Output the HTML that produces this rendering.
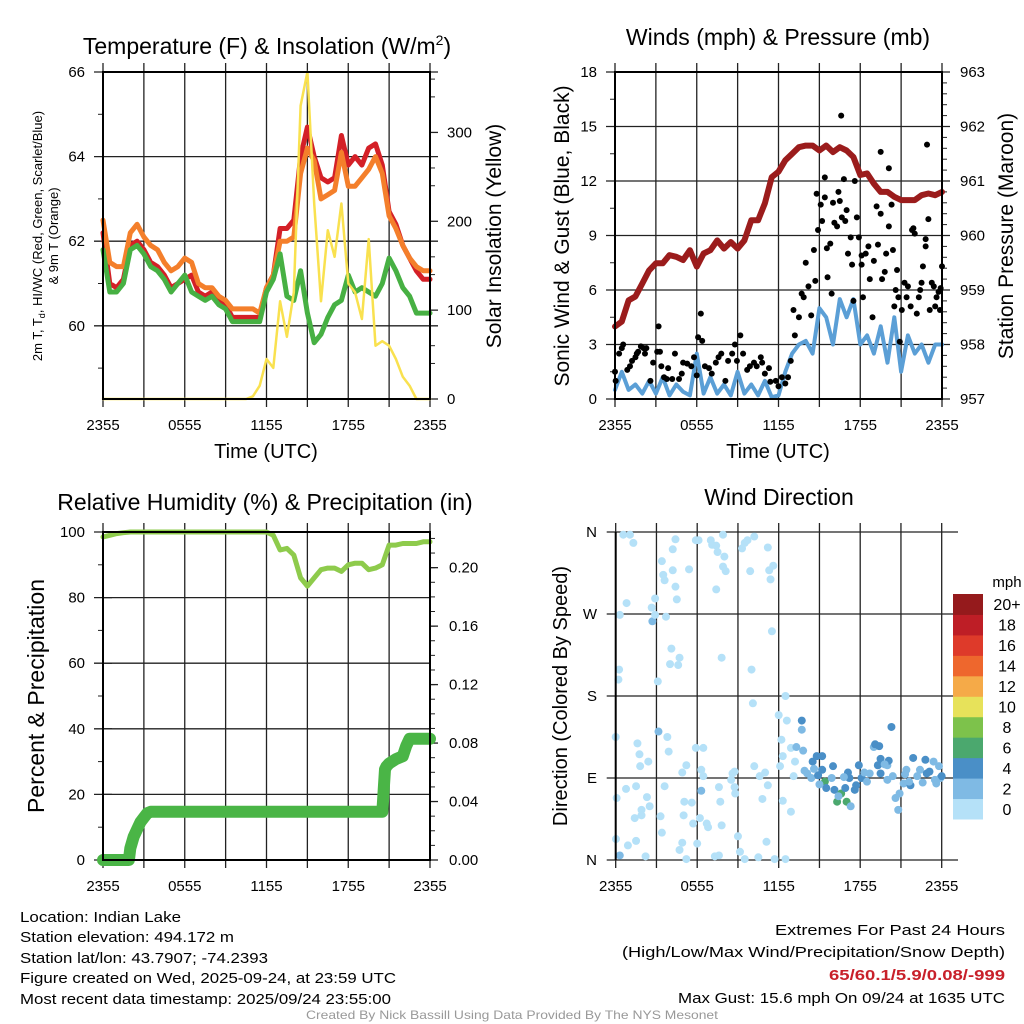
<!DOCTYPE html>
<html><head><meta charset="utf-8"><style>
body{margin:0;background:#fff}
svg{display:block;font-family:"Liberation Sans",Arial,sans-serif}
</style></head><body>
<svg id="fig" width="1024" height="1024" viewBox="0 0 1024 1024" xmlns="http://www.w3.org/2000/svg">
<rect width="1024" height="1024" fill="#fff"/>
<g id="p1"></g>
<g id="p2"></g>
<g id="p3"></g>
<g id="p4"></g>

<text x="267" y="54" font-size="23" text-anchor="middle">Temperature (F) &amp; Insolation (W/m<tspan font-size="14" dy="-9">2</tspan><tspan dy="9">)</tspan></text>
<text x="778" y="45" font-size="23" text-anchor="middle">Winds (mph) &amp; Pressure (mb)</text>
<text x="265" y="510" font-size="23" text-anchor="middle">Relative Humidity (%) &amp; Precipitation (in)</text>
<text x="779" y="505" font-size="23" text-anchor="middle">Wind Direction</text>

<text transform="translate(42,236) rotate(-90)" font-size="13" text-anchor="middle">2m T, T<tspan font-size="9" dy="3">d</tspan><tspan dy="-3">, HI/WC (Red, Green, Scarlet/Blue)</tspan></text>
<text transform="translate(58,236) rotate(-90)" font-size="13" text-anchor="middle">&amp; 9m T (Orange)</text>
<text transform="translate(501,236) rotate(-90)" font-size="21" text-anchor="middle">Solar Insolation (Yellow)</text>
<text x="266" y="458" font-size="20" text-anchor="middle">Time (UTC)</text>
<text transform="translate(569,236) rotate(-90)" font-size="21" text-anchor="middle">Sonic Wind &amp; Gust (Blue, Black)</text>
<text transform="translate(1013,236) rotate(-90)" font-size="21" text-anchor="middle">Station Pressure (Maroon)</text>
<text x="778" y="458" font-size="20" text-anchor="middle">Time (UTC)</text>
<text transform="translate(44,696) rotate(-90)" font-size="23" text-anchor="middle">Percent &amp; Precipitation</text>
<text transform="translate(567,696) rotate(-90)" font-size="20" text-anchor="middle">Direction (Colored By Speed)</text>

<g font-size="15">
<text x="20" y="922" textLength="161" lengthAdjust="spacingAndGlyphs">Location: Indian Lake</text>
<text x="20" y="942" textLength="214" lengthAdjust="spacingAndGlyphs">Station elevation: 494.172 m</text>
<text x="20" y="963" textLength="248" lengthAdjust="spacingAndGlyphs">Station lat/lon: 43.7907; -74.2393</text>
<text x="20" y="983" textLength="376" lengthAdjust="spacingAndGlyphs">Figure created on Wed, 2025-09-24, at 23:59 UTC</text>
<text x="20" y="1004" textLength="371" lengthAdjust="spacingAndGlyphs">Most recent data timestamp: 2025/09/24 23:55:00</text>
</g>
<g font-size="15" text-anchor="end">
<text x="1005" y="935" textLength="230" lengthAdjust="spacingAndGlyphs">Extremes For Past 24 Hours</text>
<text x="1005" y="957" textLength="383" lengthAdjust="spacingAndGlyphs">(High/Low/Max Wind/Precipitation/Snow Depth)</text>
<text x="1005" y="980" fill="#c8202a" font-weight="bold" textLength="176" lengthAdjust="spacingAndGlyphs">65/60.1/5.9/0.08/-999</text>
<text x="1005" y="1003" textLength="327" lengthAdjust="spacingAndGlyphs">Max Gust: 15.6 mph On 09/24 at 1635 UTC</text>
</g>
<text x="512" y="1019" font-size="12" fill="#999" text-anchor="middle" textLength="412" lengthAdjust="spacingAndGlyphs">Created By Nick Bassill Using Data Provided By The NYS Mesonet</text>
</svg>
<script>
// ---- data (times in hours since 2355, half-hourly) ----
const halfHours = [0,0.5,1,1.5,2,2.5,3,3.5,4,4.5,5,5.5,6,6.5,7,7.5,8,8.5,9,9.5,10,10.5,11,11.5,12,12.5,13,13.5,14,14.5,15,15.5,16,16.5,17,17.5,18,18.5,19,19.5,20,20.5,21,21.5,22,22.5,23,23.5,24];
const timeTickLabels = ["2355","0555","1155","1755","2355"];
const tempRed = [62.2,61.0,60.9,61.1,61.9,62.0,61.8,61.5,61.4,61.2,60.9,61.0,61.1,61.2,60.8,60.7,60.8,60.6,60.5,60.2,60.2,60.2,60.2,60.2,60.9,61.2,62.3,62.3,62.5,64.0,64.7,64.0,63.5,63.4,63.5,64.5,63.8,64.0,63.8,64.2,64.3,63.8,62.7,62.4,61.9,61.6,61.3,61.1,61.1];
const tempOrange = [62.5,61.5,61.4,61.4,62.2,62.4,62.1,61.9,61.8,61.5,61.3,61.4,61.6,61.5,61.0,60.9,60.9,60.7,60.6,60.4,60.4,60.4,60.4,60.3,60.9,61.2,62.0,62.0,62.1,63.6,64.2,63.9,63.0,63.1,63.2,64.1,63.3,63.3,63.5,63.7,64.0,63.6,62.6,62.3,61.9,61.6,61.4,61.3,61.3];
const dewGreen = [61.8,60.8,60.8,61.0,61.8,61.9,61.7,61.4,61.3,61.1,60.8,61.0,61.2,60.8,60.7,60.6,60.7,60.5,60.4,60.1,60.1,60.1,60.1,60.1,60.8,61.1,61.7,60.7,60.6,61.3,60.3,59.6,59.8,60.2,60.5,60.6,61.2,60.8,60.9,60.8,60.7,61.0,61.6,61.3,60.9,60.7,60.3,60.3,60.3];
const solar = [0,0,0,0,0,0,0,0,0,0,0,0,0,0,0,0,0,0,0,0,0,0,3,15,45,35,110,70,120,330,368,220,110,190,160,220,130,120,90,180,60,65,60,45,25,15,0,0,0];
const tempTicks = [60,62,64,66];
const solarTicks = [0,100,200,300];

const windSpeed = [0.5,1.5,0.5,0.8,0.3,1.0,0.3,1.2,0.2,0.8,0.4,0.2,2.5,0.3,1.2,0.3,0.8,0.2,1.5,0.3,0.8,0.2,1.0,0.1,0.2,1.5,2.5,3.0,3.2,2.5,5.0,4.5,3.0,5.5,4.5,5.5,3.0,3.5,2.5,4.0,2.0,4.5,1.5,3.5,2.5,3.0,2.0,3.0,3.0];
const pressure = [958.33,958.42,958.81,958.88,959.12,959.36,959.49,959.49,959.64,959.61,959.55,959.73,959.43,959.67,959.73,959.91,959.76,959.88,959.76,959.91,960.28,960.28,960.59,961.07,961.17,961.38,961.50,961.62,961.65,961.65,961.56,961.65,961.53,961.62,961.56,961.44,961.11,961.14,960.95,960.80,960.80,960.71,960.65,960.65,960.65,960.74,960.77,960.74,960.80];
const gustTimes = [0,0.05,0.3,0.5,0.6,0.9,1.1,1.25,1.5,1.6,1.7,1.9,2.1,2.2,2.3,2.6,2.8,3.1,3.2,3.3,3.4,3.6,3.8,3.9,4.2,4.4,4.7,4.9,5.0,5.3,5.6,5.8,6.0,6.1,6.3,6.4,6.6,6.9,7.1,7.4,7.6,7.8,8.1,8.3,8.6,8.8,8.95,9.2,9.4,9.7,9.9,10.2,10.4,10.7,10.8,11.0,11.3,11.4,11.8,12.0,12.25,12.5,12.7,12.9,
13.1,13.2,13.5,13.7,13.85,14.0,14.2,14.4,14.6,14.7,14.8,14.9,15.1,15.2,15.4,15.4,15.55,15.6,15.8,15.9,16.0,16.1,16.3,16.4,16.5,16.6,16.65,16.8,16.9,17.0,17.1,17.3,17.4,17.5,17.6,17.75,17.9,18.1,18.1,18.2,18.4,18.6,18.7,18.9,19.0,19.2,19.3,19.5,19.5,19.6,19.8,19.9,20.1,20.1,20.3,20.4,20.5,20.6,20.7,20.8,20.9,21.05,21.25,21.4,21.5,21.7,21.8,21.9,22.0,22.15,22.3,22.4,22.5,22.6,22.8,22.8,22.9,23.0,23.1,23.25,23.4,23.5,23.6,23.75,23.85,24.0,23.9];
const gustValues = [1.5,1.0,2.5,2.8,3.0,1.6,1.8,2.1,2.3,2.5,2.6,2.9,2.8,2.5,2.8,1.0,2.0,2.6,4.0,2.6,1.8,1.2,1.1,1.7,1.1,2.5,1.1,1.4,2.0,1.95,1.8,2.3,1.3,3.4,4.7,3.2,1.8,1.7,1.4,2.0,2.3,2.5,1.0,2.1,2.5,3.0,2.1,3.5,2.5,1.6,1.8,2.0,1.8,2.3,2.0,1.4,1.7,0.95,1.0,0.7,1.2,0.85,1.2,2.1,
4.9,3.5,4.5,5.8,5.6,7.5,6.2,4.6,8.2,6.5,11.3,9.3,10.7,9.8,12.2,11.1,8.3,6.7,8.55,5.8,10.8,9.7,9.5,11.4,10.9,15.6,10.0,12.1,9.8,10.4,8.0,8.9,7.4,5.4,12.0,10.0,8.9,7.9,7.4,5.6,8.0,8.4,6.6,4.5,7.6,10.6,8.5,10.2,13.6,6.6,7.0,8.0,12.7,9.5,10.7,8.2,5.1,6.0,7.1,5.6,3.15,4.9,6.4,5.6,6.2,5.1,9.3,9.4,9.1,4.7,5.6,6.0,6.4,7.3,8.4,8.8,14.0,9.9,4.9,6.4,6.2,5.1,5.6,5.9,4.9,7.3,6.1];
const windTicks = [0,3,6,9,12,15,18];
const pressureTicks = [957,958,959,960,961,962,963];

const rh = [98.5,99,99.5,99.8,100,100,100,100,100,100,100,100,100,100,100,100,100,100,100,100,100,100,100,100,100,99,94.5,95,93,86,83.5,86,88.5,89,89,88,90,90.5,90.5,88.5,89,90,96,96,96.5,96.5,96.5,97,97];
const precipTimes = [0,1.9,2.0,2.25,2.5,2.75,3.0,3.25,3.5,20.5,20.55,20.6,20.7,20.8,21.0,21.5,22.0,22.25,22.5,24];
const precipValues = [0,0,0.008,0.016,0.021,0.026,0.029,0.032,0.033,0.033,0.040,0.048,0.062,0.064,0.066,0.069,0.071,0.078,0.083,0.083];
const rhTicks = [0,20,40,60,80,100];
const precipTicks = ["0.00","0.04","0.08","0.12","0.16","0.20"];

const dirTimes = [0.56,1.05,1.3,0.8,0.3,0.25,0.2,0,0.07,0.76,0.02,0.3,0.9,1.5,2.2,1.6,1.75,1.8,2.4,1.5,2.3,1.9,2.5,1.4,1.9,2.65,2.7,2.9,2.9,3.4,3.5,3.6,4.2,4.4,4.5,3.7,4.1,4.0,4.6,4.7,3.1,3.15,3.8,3.9,3.6,3.3,3.4,4.4,4.2,5.4,4.9,4.7,5.05,5.2,4.9,5.0,5.6,5.7,5.2,6.0,5.9,6.1,5.9,6.45,6.3,6.45,6.3,6.2,6.7,6.8,7.0,7.1,7.4,7.5,7.9,7.4,8.0,7.9,8.1,7.8,8.6,8.75,8.5,8.75,8.8,7.6,7.7,7.8,7.3,7.6,9.0,9.15,9.5,9.3,9.5,9.7,10.2,9.9,10.0,10.1,10.2,10.6,11.0,11.2,10.8,10.5,11.1,11.2,11.3,11.6,11.4,11.5,11.7,12.5,12.1,12.3,12.9,12.5,12.0,12.6,12.2,12.3,12.9,13.1,13.2,
13.7,13.7,13.8,13.3,14.1,14.4,14.5,14.8,15.2,14.9,15.2,15.4,15.5,15.9,16.0,16.1,16.3,16.6,16.4,17.0,17.3,16.9,17.1,17.2,17.6,17.7,17.9,18.1,18.5,18.7,19.0,19.1,19.4,19.3,19.5,19.5,20.0,20.1,20.0,20.3,20.4,20.6,20.8,20.9,21.2,21.4,21.7,21.9,22.2,22.4,22.8,22.9,23.1,23.4,23.6,23.8,23.9,24.0,23.5,21.6,21.3,18.3,14.6,15.0,16.8,19.8,22.6,13.9];
const dirValues = [357,357,348,282,269,209,198,135,68,78,23,5,16,21,4,128,116,103,108,81,69,55,59,46,49,277,262,287,269,328,313,307,318,300,286,267,232,215,214,222,196,141,135,119,81,48,30,352,341,319,19,11,64,104,96,49,63,40,1,18,351,351,123,123,76,92,99,46,40,36,351,346,345,338,357,297,333,322,317,222,95,97,88,80,73,80,64,38,4,5,26,9,1,342,348,351,355,317,209,172,103,92,96,82,67,3,20,343,318,323,308,251,1,1,103,65,53,180,159,153,132,114,123,92,108,
153,143,120,124,95,90,108,114,114,93,99,86,79,90,103,77,64,73,70,64,59,79,96,90,77,82,104,90,86,95,124,127,125,104,111,95,104,109,88,146,92,68,55,73,84,99,82,112,92,99,110,95,97,108,84,103,90,92,88,86,94,96,100,83,91,105,85,98];
const dirSpeeds = [1,1,1,1,1,1,1,1,1,1,1,3,1,1,1,1,1,1,1,1,1,1,1,1,1,1,3,1,1,1,1,1,1,1,1,1,1,1,1,1,1,3,1,1,1,1,1,1,1,1,1,1,1,1,1,1,1,1,1,1,1,1,1,1,3,1,1,1,1,1,1,1,1,1,1,1,1,1,1,1,1,1,1,1,1,1,1,1,1,1,1,1,1,1,1,1,1,1,1,1,1,1,1,1,1,1,1,1,1,1,1,1,1,1,1,1,1,1,1,1,1,1,1,1,1,
5,3,3,3,3,3,5,5,5,5,5,7,5,3,5,5,7,7,3,7,3,5,5,5,5,5,5,5,3,3,3,5,5,5,5,5,3,5,3,5,3,3,3,3,3,3,5,5,3,3,5,5,5,3,3,3,3,5,3,3,3,3,3,3,3,3,3,3];
const dirTickLabels = ["N","E","S","W","N"];
const speedBins = ["0","2","4","6","8","10","12","14","16","18","20+"];

// ---- helpers ----
const NS = "http://www.w3.org/2000/svg";
function mk(parent, tag, attrs){const e=document.createElementNS(NS,tag);for(const k in attrs)e.setAttribute(k,attrs[k]);parent.appendChild(e);return e;}
function lin(d0,d1,r0,r1){return v=>r0+(v-d0)/(d1-d0)*(r1-r0);}
const binColors = ["#b5e1f8","#7fbae4","#4a8fc7","#4ba86e","#7dc24b","#e7e25a","#f5aa48","#ee672d","#de3a2a","#be1e26","#951a1c"];
function speedColor(s){let i=Math.floor(s/2);if(i>10)i=10;return binColors[i];}

function frame(g,P,xRight){
  const xe = xRight||P.x1;
  const sx = lin(0,24,P.x0,P.x1);
  for(let h=0;h<=24;h+=3){
    const x=sx(h);
    const l=mk(g,"line",{x1:x,y1:P.y0-9,x2:x,y2:P.y1+8,stroke:"#222","stroke-width":1.3});
    
    
  }
  timeTickLabels.forEach((lab,i)=>{
    const t=mk(g,"text",{x:sx(i*6),y:P.y1+31,"font-size":15,"text-anchor":"middle"});
    
    
    t.textContent=lab;
  });
  return sx;
}
function hgrid(g,P,ys,xe){
  ys.forEach(y=>{
    const l=mk(g,"line",{x1:P.x0-9,y1:y,x2:xe+8,y2:y,stroke:"#222","stroke-width":1.3});
    
    
  });
}
function label(g,x,y,txt,anchor,name){
  const t=mk(g,"text",{x:x,y:y+5,"font-size":15,"text-anchor":anchor});
  
  
  t.textContent=txt;
}
function border(g,P,xe){
  const r=mk(g,"rect",{x:P.x0,y:P.y0,width:(xe||P.x1)-P.x0,height:P.y1-P.y0,fill:"none",stroke:"#000","stroke-width":2});
  
  
}
function minorTicks(g,x,ys,dir){
  ys.forEach(y=>{const l=mk(g,"line",{x1:x,y1:y,x2:x+dir*5,y2:y,stroke:"#222","stroke-width":1});
    
    });
}
function pathFrom(xs,ys,sx,sy){return xs.map((t,i)=>(i?"L":"M")+sx(t).toFixed(1)+","+sy(ys[i]).toFixed(1)).join("");}
function line(g,d,color,w,name){
  const p=mk(g,"path",{d:d,fill:"none",stroke:color,"stroke-width":w,"stroke-linejoin":"round","stroke-linecap":"round"});
  
  
}

// ---- panel 1 ----
(function(){
  const g=document.getElementById("p1");
  const P={x0:103,x1:430,y0:72,y1:399};
  const sx=frame(g,P);
  const sy=lin(58.27,66,P.y1,P.y0);
  const sr=lin(0,368,P.y1,P.y0);
  hgrid(g,P,tempTicks.map(sy),P.x1);
  minorTicks(g,P.x0,[59,61,63,65].map(sy),-1);
  solarTicks.forEach(v=>{const l=mk(g,"line",{x1:P.x1,y1:sr(v),x2:P.x1+8,y2:sr(v),stroke:"#222","stroke-width":1.3});
    
    });
  minorTicks(g,P.x1,[40,60,140,160,240,260,340,360].map(sr),1);
  tempTicks.forEach(v=>label(g,85,sy(v),String(v),"end","temp-tick-label"));
  solarTicks.forEach(v=>label(g,447,sr(v),String(v),"start","solar-tick-label"));
  line(g,pathFrom(halfHours,tempRed,sx,sy),"#d42027",5,"temperature-line");
  line(g,pathFrom(halfHours,tempOrange,sx,sy),"#f47f2b",5,"temperature-9m-line");
  line(g,pathFrom(halfHours,dewGreen,sx,sy),"#47b043",5,"dewpoint-line");
  line(g,pathFrom(halfHours,solar,sx,sr),"#f9e14f",2.5,"solar-line");
  border(g,P);
})();

// ---- panel 2 ----
(function(){
  const g=document.getElementById("p2");
  const P={x0:615,x1:942,y0:72,y1:399};
  const sx=frame(g,P);
  const sy=lin(0,18,P.y1,P.y0);
  const sp=lin(957,963,P.y1,P.y0);
  hgrid(g,P,windTicks.map(sy),P.x1);
  minorTicks(g,P.x0,[1.5,4.5,7.5,10.5,13.5,16.5].map(sy),-1);
  windTicks.forEach(v=>label(g,597,sy(v),String(v),"end","wind-tick-label"));
  pressureTicks.forEach(v=>label(g,960,sp(v),String(v),"start","pressure-tick-label"));
  const mins=[];for(let v=957.2;v<963;v+=0.2)mins.push(sp(v));
  minorTicks(g,P.x1,mins,1);
  line(g,pathFrom(halfHours,pressure,sx,sp),"#9b1c1c",6,"pressure-line");
  line(g,pathFrom(halfHours,windSpeed,sx,sy),"#5b9fd6",4,"wind-speed-line");
  gustTimes.forEach((t,i)=>{
    const c=mk(g,"circle",{cx:sx(t),cy:sy(gustValues[i]),r:3,fill:"#000"});
    
    
  });
  border(g,P);
})();

// ---- panel 3 ----
(function(){
  const g=document.getElementById("p3");
  const P={x0:103,x1:430,y0:532,y1:860};
  const sx=frame(g,P);
  const sy=lin(0,100,P.y1,P.y0);
  const sq=lin(0,0.2244,P.y1,P.y0);
  hgrid(g,P,rhTicks.map(sy),P.x0+1);
  rhTicks.forEach(v=>{const l=mk(g,"line",{x1:P.x0,y1:sy(v),x2:P.x1,y2:sy(v),stroke:"#222","stroke-width":1.3});
    
    });
  minorTicks(g,P.x0,[10,30,50,70,90].map(sy),-1);
  precipTicks.forEach(s=>{const v=parseFloat(s);const l=mk(g,"line",{x1:P.x1,y1:sq(v),x2:P.x1+8,y2:sq(v),stroke:"#222","stroke-width":1.3});
    
    });
  const mins=[];for(let v=0.01;v<0.224;v+=0.01)mins.push(sq(v));
  minorTicks(g,P.x1,mins,1);
  rhTicks.forEach(v=>label(g,85,sy(v),String(v),"end","rh-tick-label"));
  precipTicks.forEach(s=>label(g,449,sq(parseFloat(s)),s,"start","precip-tick-label"));
  line(g,pathFrom(halfHours,rh,sx,sy),"#8ecb4c",5,"humidity-line");
  line(g,pathFrom(precipTimes,precipValues,sx,sq),"#4ab546",12,"precipitation-line");
  border(g,P);
})();

// ---- panel 4 ----
(function(){
  const g=document.getElementById("p4");
  const P={x0:615.7,x1:941.7,y0:532,y1:860};
  const sx=frame(g,P);
  const sy=lin(0,360,P.y1,P.y0);
  const xe=950;
  hgrid(g,P,[0,90,180,270,360].map(sy),xe);
  dirTickLabels.forEach((s,i)=>label(g,597,sy(i*90),s,"end","direction-tick-label"));
  dirTimes.forEach((t,i)=>{
    const c=mk(g,"circle",{cx:sx(t),cy:sy(dirValues[i]),r:4,fill:speedColor(dirSpeeds[i])});
    
    
  });
  const l=mk(g,"line",{x1:P.x0,y1:P.y0,x2:P.x0,y2:P.y1,stroke:"#000","stroke-width":2});
  
  
  // colorbar
  const cb0=594,cb1=819,bh=(cb1-cb0)/speedBins.length;
  speedBins.forEach((s,i)=>{
    const k=speedBins.length-1-i;
    const y=cb0+k*bh;
    const r=mk(g,"rect",{x:953,y:y,width:30,height:bh+0.5,fill:binColors[i]});
    
    
    const t=mk(g,"text",{x:1007,y:y+bh/2+6,"font-size":16,"text-anchor":"middle"});
    
    
    t.textContent=s;
  });
  const u=mk(g,"text",{x:1007,y:587,"font-size":15,"text-anchor":"middle"});
  
  
  u.textContent="mph";
})();
</script>
</body></html>
